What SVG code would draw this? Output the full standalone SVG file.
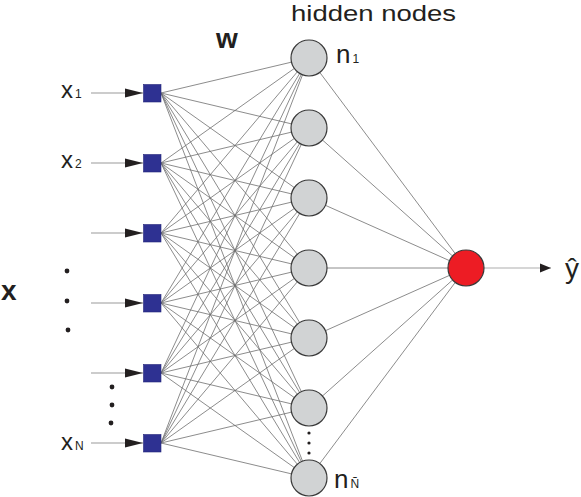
<svg xmlns="http://www.w3.org/2000/svg" width="581" height="497" viewBox="0 0 581 497">
<style>
text{font-family:"Liberation Sans",Arial,sans-serif;fill:#231f20}
.w{stroke:#6e6e6e;stroke-width:0.8;fill:none}
.in{stroke:#9a9a9a;stroke-width:1.1;fill:none}
.sq{fill:#2e3192;stroke:#23257a;stroke-width:0.6}
.hn{fill:#d1d3d4;stroke:#3a3a3a;stroke-width:1.2}
.dot{fill:#231f20}
.lab{font-size:24px}
.sub{font-size:12px}
</style>
<defs>
<marker id="ah" markerWidth="18" markerHeight="10" refX="18" refY="5" orient="auto" markerUnits="userSpaceOnUse">
<path d="M0,0.5 L18,5 L0,9.5 Z" fill="#231f20"/>
</marker>
<marker id="ah2" markerWidth="12" markerHeight="10" refX="11" refY="5" orient="auto" markerUnits="userSpaceOnUse">
<path d="M0,0.5 L11,5 L0,9.5 Z" fill="#231f20"/>
</marker>
</defs>
<rect width="581" height="497" fill="#fff"/>
<g id="connectors">
<g class="w">
<path d="M161,93L309,58M161,93L309,128M161,93L309,198M161,93L309,268M161,93L309,338M161,93L309,408M161,93L309,478"/>
<path d="M161,163L309,58M161,163L309,128M161,163L309,198M161,163L309,268M161,163L309,338M161,163L309,408M161,163L309,478"/>
<path d="M161,233L309,58M161,233L309,128M161,233L309,198M161,233L309,268M161,233L309,338M161,233L309,408M161,233L309,478"/>
<path d="M161,303L309,58M161,303L309,128M161,303L309,198M161,303L309,268M161,303L309,338M161,303L309,408M161,303L309,478"/>
<path d="M161,373L309,58M161,373L309,128M161,373L309,198M161,373L309,268M161,373L309,338M161,373L309,408M161,373L309,478"/>
<path d="M161,443L309,58M161,443L309,128M161,443L309,198M161,443L309,268M161,443L309,338M161,443L309,408M161,443L309,478"/>
<path d="M309,58L466,268M309,128L466,268M309,198L466,268M309,268L466,268M309,338L466,268M309,408L466,268M309,478L466,268"/>
</g>
<g class="in">
<line x1="91" y1="93" x2="143" y2="93" marker-end="url(#ah)"/>
<line x1="91" y1="163" x2="143" y2="163" marker-end="url(#ah)"/>
<line x1="91" y1="233" x2="143" y2="233" marker-end="url(#ah)"/>
<line x1="91" y1="303" x2="143" y2="303" marker-end="url(#ah)"/>
<line x1="91" y1="373" x2="143" y2="373" marker-end="url(#ah)"/>
<line x1="91" y1="443" x2="143" y2="443" marker-end="url(#ah)"/>
<line x1="484" y1="268" x2="551" y2="268" stroke="#c8c8c8" stroke-width="1.6" marker-end="url(#ah2)"/>
</g>
</g>
<g id="inputs">
<rect id="i1" class="sq" x="143.5" y="84.5" width="17.5" height="17.5"/>
<rect id="i2" class="sq" x="143.5" y="154.5" width="17.5" height="17.5"/>
<rect id="i3" class="sq" x="143.5" y="224.5" width="17.5" height="17.5"/>
<rect id="i4" class="sq" x="143.5" y="294.5" width="17.5" height="17.5"/>
<rect id="i5" class="sq" x="143.5" y="364.5" width="17.5" height="17.5"/>
<rect id="i6" class="sq" x="143.5" y="434.5" width="17.5" height="17.5"/>
</g>
<g id="hidden">
<circle id="h1" class="hn" cx="309" cy="58" r="18"/>
<circle id="h2" class="hn" cx="309" cy="128" r="18"/>
<circle id="h3" class="hn" cx="309" cy="198" r="18"/>
<circle id="h4" class="hn" cx="309" cy="268" r="18"/>
<circle id="h5" class="hn" cx="309" cy="338" r="18"/>
<circle id="h6" class="hn" cx="309" cy="408" r="18"/>
<circle id="h7" class="hn" cx="309" cy="478" r="18"/>
</g>
<g id="output">
<circle cx="466" cy="268" r="18" fill="#ed1c24" stroke="#3a3a3a" stroke-width="1.2"/>
</g>
<g id="dots">
<circle class="dot" cx="67" cy="271" r="2.4"/>
<circle class="dot" cx="67" cy="301" r="2.4"/>
<circle class="dot" cx="68" cy="330" r="2.4"/>
<circle class="dot" cx="112" cy="387" r="2.4"/>
<circle class="dot" cx="112" cy="405" r="2.4"/>
<circle class="dot" cx="111" cy="423" r="2.4"/>
<circle class="dot" cx="309" cy="433" r="1.6"/>
<circle class="dot" cx="309" cy="443" r="1.6"/>
<circle class="dot" cx="309" cy="453" r="1.6"/>
</g>
<g id="labels">
<text x="291" y="20.5" font-size="22" textLength="165" lengthAdjust="spacingAndGlyphs">hidden nodes</text>
<text x="216" y="47.5" font-size="28" font-weight="bold">w</text>
<text x="1" y="300" font-size="28" font-weight="bold">x</text>
<text x="61" y="98" class="lab">x<tspan class="sub" dx="2">1</tspan></text>
<text x="61" y="167.5" class="lab">x<tspan class="sub" dx="2">2</tspan></text>
<text x="61" y="450" class="lab">x<tspan class="sub" dx="2">N</tspan></text>
<text x="336" y="63" font-size="26">n<tspan class="sub" dx="2">1</tspan></text>
<text x="334" y="488" font-size="26">n<tspan class="sub" dx="2">Ñ</tspan></text>
<text x="565" y="278" font-size="28">ŷ</text>
</g>
</svg>
